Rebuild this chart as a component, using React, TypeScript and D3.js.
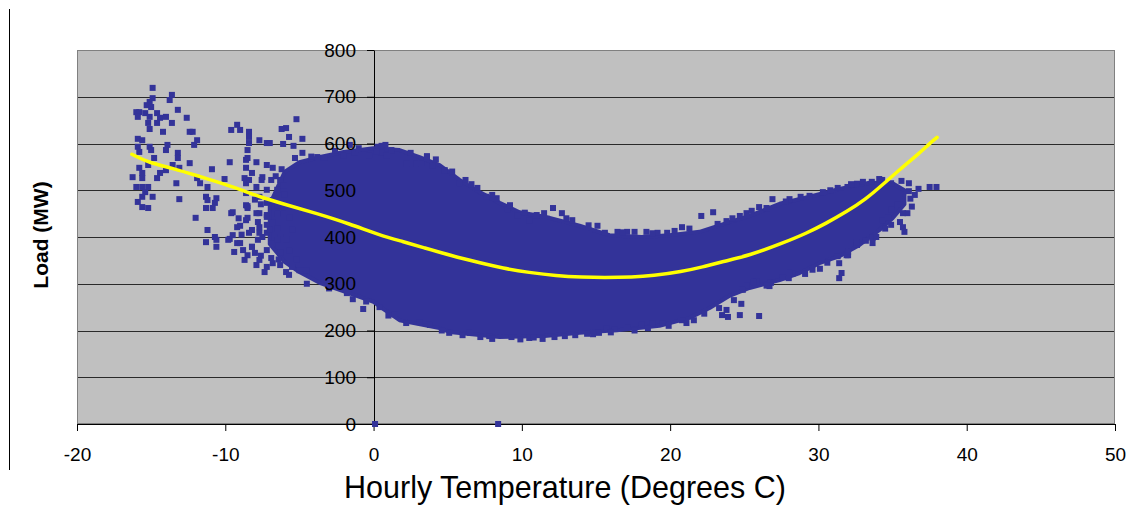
import React, { useRef, useEffect } from "react";
import * as d3 from "d3";

const xTicks = [-20, -10, 0, 10, 20, 30, 40, 50];
const yTicks = [0, 100, 200, 300, 400, 500, 600, 700, 800];

// solid part of the cloud, [temperature, load] along its upper and lower edge
const coreTop: [number, number][] = [
  [-7.0, 470], [-6.0, 539], [-5.0, 560], [-3.6, 571], [-2.0, 582], [0, 590], [1.75, 586],
  [3.1, 571], [4.45, 554], [5.8, 522], [7.15, 496], [8.5, 473], [9.84, 453],
  [11.87, 441], [13.89, 424], [15.91, 404], [18.07, 400], [19.96, 404],
  [21.98, 411], [24.0, 432], [25.35, 445], [27.38, 471], [29.4, 486],
  [31.42, 503], [33.45, 516], [35.0, 515], [35.8, 500],
];
const coreBottom: [number, number][] = [
  [-7.0, 385], [-6.0, 347], [-5.0, 325], [-3.64, 302], [-2.29, 287], [-0.94, 272], [0, 261],
  [0.74, 244], [1.75, 222], [4.45, 205], [5.12, 197], [8.5, 186], [11.53, 188],
  [13.89, 195], [16.59, 201], [19.28, 210], [21.31, 227], [22.66, 248],
  [24.0, 274], [25.35, 291], [27.38, 308], [28.73, 323], [30.07, 344],
  [31.42, 359], [32.77, 383], [34.12, 415], [35.0, 440], [35.8, 470],
];

// single readings outside the solid part, [temperature, load]
const points: [number, number][] = [
  // cold end
  [-14.9, 719], [-13.6, 704], [-13.75, 693], [-15.1, 689], [-14.9, 697], [-15.3, 682],
  [-15.0, 678], [-16.0, 667], [-15.8, 667], [-15.4, 665], [-15.9, 657], [-15.1, 657],
  [-14.6, 665], [-14.4, 655], [-14.0, 657], [-13.6, 644], [-13.2, 672], [-12.6, 655],
  [-15.2, 644], [-14.6, 644], [-15.1, 631], [-14.2, 625], [-12.4, 625], [-12.2, 625],
  [-11.9, 607], [-12.1, 597], [-15.9, 610], [-15.6, 607], [-15.9, 593], [-15.8, 582],
  [-15.1, 593], [-15.0, 586], [-13.9, 597], [-14.0, 586], [-13.2, 580], [-13.2, 569],
  [-12.4, 558], [-13.55, 554], [-13.1, 548], [-14.0, 543], [-14.8, 569], [-15.2, 554],
  [-15.8, 548], [-15.6, 537], [-15.6, 526], [-16.25, 528], [-14.4, 537], [-14.6, 526],
  [-13.3, 515], [-16.0, 507], [-15.6, 507], [-15.2, 507], [-15.4, 496], [-15.6, 486],
  [-14.9, 486], [-15.9, 475], [-15.6, 464], [-15.2, 462],
  [-10.9, 545], [-11.9, 526], [-11.7, 515], [-11.2, 507], [-10.05, 524], [-13.1, 481],
  [-12.0, 441], [-11.3, 486], [-11.2, 479], [-10.6, 483], [-10.7, 473], [-10.85, 462],
  [-11.3, 462], [-9.6, 451], [-9.6, 629], [-9.2, 640], [-9.0, 629], [-8.4, 625],
  [-8.4, 614], [-7.7, 607], [-7.2, 601], [-8.4, 601], [-8.5, 586], [-9.7, 560],
  [-8.6, 565], [-7.9, 560], [-8.7, 526], [-8.6, 515], [-11.2, 415], [-10.7, 400],
  [-11.3, 389], [-10.6, 394], [-10.6, 379], [-9.7, 396], [-9.2, 421], [-9.0, 424],
  [-6.2, 631], [-5.9, 633], [-5.7, 614], [-5.2, 652], [-4.8, 610], [-5.4, 595],
  [-6.1, 599], [-9.5, 453], [-8.6, 468], [-8.5, 462], [-9.8, 394], [-9.5, 404],
  [-9.2, 387], [-9.4, 368], [-8.8, 372], [-8.7, 351], [-8.5, 361], [-8.5, 441],
  [-7.7, 451], [-7.2, 447], [-7.8, 432], [-7.2, 426], [-6.8, 430], [-8.2, 415],
  [-7.7, 409], [-7.8, 394], [-7.2, 409], [-8.2, 379], [-8.0, 366], [-7.7, 351],
  [-7.9, 340], [-7.2, 336], [-7.35, 325], [-6.5, 419], [-6.3, 400], [-6.8, 387],
  [-6.3, 366], [-6.8, 344], [-6.3, 340], [-5.9, 325], [-5.7, 319], [-6.1, 451],
  [-5.7, 441], [-5.5, 415], [-5.9, 394], [-5.7, 372], [-5.2, 351], [-5.5, 336],
  [-5.0, 329], [-4.5, 329], [-1.4, 267], [-0.7, 246],
  [-8.5, 569], [-7.2, 554], [-6.8, 548], [-8.6, 548], [-8.2, 537], [-7.5, 528],
  [-6.9, 522], [-8.4, 522], [-7.9, 507], [-7.2, 501], [-6.5, 501], [-8.6, 494],
  [-7.7, 486], [-7.2, 473], [-6.8, 479], [-8.5, 466], [-7.9, 451], [-7.2, 443],
  [-6.5, 451], [-8.6, 436], [-7.7, 421], [-7.0, 415], [-8.4, 409], [-7.5, 400],
  [-6.5, 394], [-9.0, 387], [-8.2, 379], [-7.2, 372], [-6.3, 522], [-6.0, 490],
  [-6.5, 468], [-7.55, 522], [-6.1, 511], [-6.6, 530], [-6.2, 545], [-7.6, 470],
  [-8.0, 480], [-9.1, 440], [-8.9, 405], [-7.6, 360], [-6.9, 355], [-6.4, 352],
  // above the cloud
  [-3.8, 571], [-3.3, 569], [-1.6, 597], [-2.0, 575], [-1.3, 580], [0.27, 593],
  [0.54, 580], [1.2, 586], [0.9, 575], [2.2, 558], [2.9, 558], [3.6, 571],
  [-4.8, 580], [-5.3, 569], [-7.0, 601], [0.54, 595], [0.2, 582], [-0.3, 575],
  [3.6, 573], [3.2, 558], [4.0, 552], [4.8, 543], [5.8, 515], [6.6, 513],
  [7.6, 486], [8.3, 483], [9.0, 458], [9.7, 447], [10.5, 436], [11.5, 451],
  [12.1, 462], [12.7, 451], [13.4, 436], [15.1, 424], [15.6, 409], [16.45, 411],
  [17.1, 411], [17.6, 411], [18.4, 411], [19.15, 409], [19.8, 409], [20.3, 413],
  [20.8, 421], [22.1, 445], [22.9, 453], [23.8, 434], [24.7, 445], [25.15, 451],
  [25.5, 456], [26.0, 464], [26.9, 481], [28.05, 481], [29.4, 488], [30.3, 496],
  [31.3, 505], [31.96, 507],
  [-4.2, 572], [-2.6, 584], [-1.0, 590], [0.8, 597], [2.5, 580], [4.2, 566],
  [5.3, 540], [6.2, 522], [7.0, 505], [8.0, 490], [9.2, 468], [10.2, 452],
  [11.0, 447], [13.0, 440], [14.5, 425], [16.8, 410], [18.8, 408], [21.3, 418],
  [23.2, 428], [24.2, 440], [26.5, 462], [27.8, 476], [28.8, 486], [30.8, 500],
  [32.6, 514], [34.3, 522],
  // hot end
  [37.5, 507], [37.96, 507], [36.75, 503], [36.1, 498], [36.1, 515], [35.6, 520],
  [34.9, 515], [34.1, 524], [33.6, 518], [33.0, 518], [32.2, 513], [36.0, 451],
  [35.7, 451], [35.5, 432], [35.7, 421], [35.8, 411], [34.9, 458], [34.3, 436],
  [34.9, 426], [34.7, 441], [33.65, 398], [33.65, 387], [33.9, 400], [32.0, 361],
  [31.4, 344], [31.56, 323], [31.4, 312], [32.6, 383], [32.6, 389],
  [36.2, 482], [36.5, 490], [35.3, 470], [36.3, 465],
  // below the cloud
  [24.7, 233], [26.0, 231], [24.8, 257], [23.5, 233], [23.9, 229], [23.3, 248],
  [23.8, 244], [25.8, 304], [26.7, 295], [27.6, 314], [28.25, 321], [29.1, 321],
  [30.1, 332], [31.3, 359], [31.9, 361], [28.05, 323], [25.6, 304], [25.15, 297],
  [24.9, 287], [26.8, 302], [20.8, 222], [21.1, 216], [19.5, 216], [18.8, 214],
  [18.1, 212], [17.1, 207], [16.25, 203], [15.7, 205], [11.4, 182], [9.3, 186],
  [14.4, 193], [5.1, 195], [6.5, 195], [7.8, 188], [10.5, 184], [12.9, 188],
  [15.2, 195], [1.4, 235], [3.1, 218],
  [-4.5, 300], [-3.0, 290], [-1.8, 280], [-0.5, 262], [0.4, 250], [1.0, 232],
  [2.2, 216], [3.8, 212], [4.6, 200], [6.0, 190], [7.2, 186], [8.0, 182],
  [9.9, 181], [10.8, 185], [12.2, 186], [13.6, 190], [14.8, 192], [16.0, 196],
  [17.6, 200], [18.5, 205], [19.9, 210], [21.6, 222], [22.3, 236], [24.3, 265],
  [26.5, 296], [28.0, 312], [29.6, 330], [30.6, 345], [32.0, 368], [33.2, 392],
  [34.5, 418],
  // zero readings
  [0.1, 0], [8.4, 0],
];

// fitted trend line
const trendTemp = [-16.3, -15.1, -13.5, -11.7, -9.5, -7.7, -6.1, -3.9, -1.6, 0.4, 2.0, 3.3,
  5.35, 7.15, 8.7, 10.5, 12.3, 14.1, 15.5, 17.5, 18.8, 20.8, 22.2, 23.5, 25.4, 27.6, 29.2,
  30.5, 31.9, 33.2, 34.3, 35.5, 36.8, 37.5, 38.0];
const trendLoad = [577, 558, 547, 529, 508, 486, 471, 451, 428, 404, 390, 378, 359, 345, 333,
  324, 317, 314, 313, 314, 317, 326, 336, 347, 361, 387, 408, 429, 454, 481, 511, 545, 579,
  600, 613];

const FONT = "'Liberation Sans', Arial, sans-serif";
const BLUE = "#333399";

const App = () => {
  const svgRef = useRef<SVGSVGElement>(null);

  useEffect(() => {
    const svg = d3.select(svgRef.current);
    svg.selectAll("*").remove();

    const x = d3.scaleLinear().domain([-20, 50]).range([77, 1115]);
    const y = d3.scaleLinear().domain([0, 800]).range([424, 50]);
    const x0 = Math.round(x(0));

    // chart area edge on the left
    svg.append("line").attr("x1", 9.5).attr("x2", 9.5).attr("y1", 9).attr("y2", 470)
      .attr("stroke", "#000");

    // plot area
    svg.append("rect").attr("x", 77).attr("y", 50).attr("width", 1038).attr("height", 374)
      .attr("fill", "#c0c0c0");

    svg.append("g").selectAll("line").data(yTicks.filter((d) => d > 0 && d < 800)).join("line")
      .attr("x1", 77).attr("x2", 1115)
      .attr("y1", (d) => Math.round(y(d)) + 0.5).attr("y2", (d) => Math.round(y(d)) + 0.5)
      .attr("stroke", "#2a2a2a");

    svg.append("rect").attr("x", 77.5).attr("y", 50.5).attr("width", 1037).attr("height", 373)
      .attr("fill", "none").attr("stroke", "#808080");

    // axis lines and tick marks sit under the data
    const yAx = svg.append("g").attr("transform", `translate(${x0},0)`)
      .call(d3.axisLeft(y).tickValues(yTicks).tickSize(7).tickSizeOuter(0).tickFormat(() => ""));
    const xAx = svg.append("g").attr("transform", `translate(0,${Math.round(y(0))})`)
      .call(d3.axisBottom(x).tickValues(xTicks).tickSize(7).tickSizeOuter(0).tickFormat(() => ""));
    [yAx, xAx].forEach((g) => {
      g.select(".domain").attr("stroke", "#000");
      g.selectAll("line").attr("stroke", "#000");
    });

    // the dense cloud
    const poly = [...coreTop, ...coreBottom.slice().reverse()];
    const line = d3.line<[number, number]>().x((d) => x(d[0])).y((d) => y(d[1]));
    svg.append("path").attr("d", line(poly) + "Z").attr("fill", BLUE)
      .attr("stroke", BLUE).attr("stroke-width", 4).attr("stroke-linejoin", "round");

    svg.append("g").selectAll("rect").data(points).join("rect")
      .attr("x", (d) => x(d[0]) - 3).attr("y", (d) => y(d[1]) - 3)
      .attr("width", 6).attr("height", 6).attr("fill", BLUE);

    // trend line
    const trend = trendTemp.map((t, i) => [t, trendLoad[i]] as [number, number]);
    svg.append("path")
      .attr("d", d3.line<[number, number]>().x((d) => x(d[0])).y((d) => y(d[1]))
        .curve(d3.curveBasis)(trend))
      .attr("fill", "none").attr("stroke", "#ffff00").attr("stroke-width", 3.5)
      .attr("stroke-linecap", "round");

    // tick labels on top of the data
    const fmt = (d: d3.NumberValue) => String(d);
    const yLab = svg.append("g").attr("transform", `translate(${x0},0)`)
      .call(d3.axisLeft(y).tickValues(yTicks).tickSize(7).tickPadding(11).tickFormat(fmt));
    const xLab = svg.append("g").attr("transform", `translate(0,${Math.round(y(0))})`)
      .call(d3.axisBottom(x).tickValues(xTicks).tickSize(7).tickPadding(17).tickFormat(fmt));
    [yLab, xLab].forEach((g) => {
      g.select(".domain").remove();
      g.selectAll("line").remove();
      g.attr("font-family", FONT).attr("font-size", 19);
      g.selectAll("text").attr("fill", "#000");
    });

    svg.append("text").attr("x", 565).attr("y", 498).attr("text-anchor", "middle")
      .attr("font-family", FONT).attr("font-size", 30.5).attr("fill", "#000")
      .text("Hourly Temperature (Degrees C)");

    svg.append("text").attr("transform", "translate(48,235) rotate(-90)")
      .attr("text-anchor", "middle").attr("font-family", FONT).attr("font-size", 21)
      .attr("font-weight", "bold").attr("fill", "#000")
      .text("Load (MW)");
  }, []);

  return (
    <div style={{ position: "absolute", left: 0, top: 0 }}>
      <svg ref={svgRef} width={1139} height={506} style={{ display: "block" }}></svg>
    </div>
  );
};

export default App;
